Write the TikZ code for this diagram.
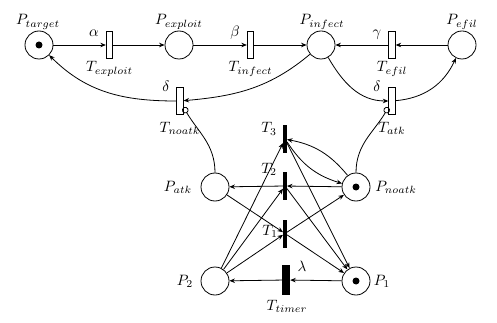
\documentclass[tikz,border=0pt]{standalone}
\usepackage{graphicx}
\usetikzlibrary{arrows.meta}
% labels are set at 10pt and enlarged, as in a scaled figure
\newcommand\netlabel[1]{\scalebox{1.5}{$#1$}}
\begin{document}
\begin{tikzpicture}[x=1pt,y=1pt,
  font=\fontsize{10}{12}\selectfont,
  place/.style={circle,draw,line width=0.8pt,minimum size=28pt,inner sep=0pt},
  trans/.style={rectangle,draw,line width=0.8pt,minimum width=6.5pt,minimum height=27.5pt,inner sep=0pt},
  bar/.style={rectangle,fill=black,minimum width=3.6pt,minimum height=28pt,inner sep=0pt},
  timerbar/.style={rectangle,fill=black,minimum width=8pt,minimum height=30pt,inner sep=0pt},
  token/.style={circle,fill=black,minimum size=7pt,inner sep=0pt},
  arc/.style={line width=0.8pt,-{Stealth[length=5.5pt,width=4.5pt]}},
  inhib/.style={line width=0.8pt,-{Circle[open,length=6.5pt,width=6.5pt]}},
  lbl/.style={inner sep=0pt,anchor=base}]
\useasboundingbox (0,0) rectangle (497,-323);

% upper row: target -> exploit -> infect <- efil
\node[place] (Ptarget) at (39,-45) {};
\node[token] (tokTarget) at (Ptarget) {};
\node[trans] (Texploit) at (109.5,-45) {};
\node[place] (Pexploit) at (179,-45) {};
\node[trans] (Tinfect) at (250.5,-45) {};
\node[place] (Pinfect) at (321,-45) {};
\node[trans] (Tefil) at (392,-45) {};
\node[place] (Pefil) at (462,-45) {};
\node[trans] (Tnoatk) at (180,-101) {};
\node[trans] (Tatk) at (392,-101) {};

% lower part: attack state and timer
\node[place] (Patk) at (215,-187) {};
\node[place] (Pnoatk) at (356,-187) {};
\node[token] (tokNoatk) at (Pnoatk) {};
\node[place] (P2) at (215,-281) {};
\node[place] (P1) at (356,-281) {};
\node[token] (tokOne) at (P1) {};
\node[bar] (T3) at (285,-139) {};
\node[bar] (T2) at (285,-186) {};
\node[bar] (T1) at (285,-233.5) {};
\node[timerbar] (Ttimer) at (286,-280) {};

% labels
\node[lbl] (lPtarget) at (38,-25) {\netlabel{P_{target}}};
\node[lbl] (lPexploit) at (179,-25) {\netlabel{P_{exploit}}};
\node[lbl] (lPinfect) at (322,-25) {\netlabel{P_{infect}}};
\node[lbl] (lPefil) at (462,-25) {\netlabel{P_{efil}}};
\node[lbl] (lalpha) at (94,-37) {\netlabel{\alpha}};
\node[lbl] (lbeta) at (235,-37) {\netlabel{\beta}};
\node[lbl] (lgamma) at (377,-37) {\netlabel{\gamma}};
\node[lbl] (lTexploit) at (109.5,-72) {\netlabel{T_{exploit}}};
\node[lbl] (lTinfect) at (250.5,-72) {\netlabel{T_{infect}}};
\node[lbl] (lTefil) at (392,-72) {\netlabel{T_{efil}}};
\node[lbl] (ldeltaA) at (166,-92) {\netlabel{\delta}};
\node[lbl] (ldeltaB) at (377,-92) {\netlabel{\delta}};
\node[lbl] (lTnoatk) at (180,-132) {\netlabel{T_{noatk}}};
\node[lbl] (lTatk) at (392,-132) {\netlabel{T_{atk}}};
\node[lbl] (lPatk) at (178,-191) {\netlabel{P_{atk}}};
\node[lbl] (lPnoatk) at (396,-191) {\netlabel{P_{noatk}}};
\node[lbl] (lPtwo) at (185,-285) {\netlabel{P_2}};
\node[lbl] (lPone) at (382,-285) {\netlabel{P_1}};
\node[lbl] (lTthree) at (269,-133) {\netlabel{T_3}};
\node[lbl] (lTtwo) at (269,-173) {\netlabel{T_2}};
\node[lbl] (lTone) at (270,-235) {\netlabel{T_1}};
\node[lbl] (llambda) at (302,-271) {\netlabel{\lambda}};
\node[lbl] (lTtimer) at (287,-310) {\netlabel{T_{timer}}};

% upper arcs
\draw[arc] (Ptarget) -- (Texploit);
\draw[arc] (Texploit) -- (Pexploit);
\draw[arc] (Pexploit) -- (Tinfect);
\draw[arc] (Tinfect) -- (Pinfect);
\draw[arc] (Pefil) -- (Tefil);
\draw[arc] (Tefil) -- (Pinfect);
\draw[arc] (Pinfect) to[out=-140,in=5] (Tnoatk);
\draw[arc] (Tnoatk) to[out=180,in=-45] (Ptarget);
\draw[arc] (Pinfect) to[out=-60,in=180] (Tatk);
\draw[arc] (Tatk) to[out=5,in=-115] (Pefil);

% inhibitor arcs
\draw[inhib] (Patk) to[out=90,in=-60] (Tnoatk);
\draw[inhib] (Pnoatk) to[out=90,in=-120] (Tatk);

% lower arcs
\draw[arc] (P1) -- (Ttimer);
\draw[arc] (Ttimer) -- (P2);
\draw[arc] (Pnoatk) -- (T2);
\draw[arc] (T2) -- (Patk);
\draw[arc] (P2) -- (T3);
\draw[arc] (P2) -- (T2);
\draw[arc] (P2) -- (T1);
\draw[arc] (Patk) -- (T1);
\draw[arc] (T1) -- (Pnoatk);
\draw[arc] (T1) -- (P1);
\draw[arc] (T2) -- (P1);
\draw[arc] (T3) -- (P1);
\draw[arc] (Pnoatk) to[bend right=20] (T3);
\draw[arc] (T3) to[bend right=20] (Pnoatk);
\end{tikzpicture}
\end{document}
